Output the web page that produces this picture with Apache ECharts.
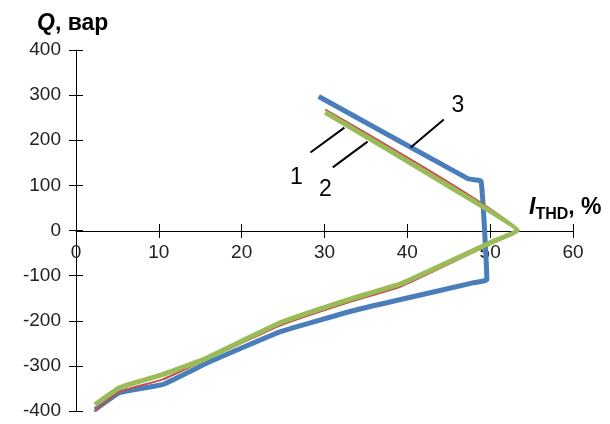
<!DOCTYPE html>
<html>
<head>
<meta charset="utf-8">
<script src="https://cdn.jsdelivr.net/npm/echarts@6/dist/echarts.min.js"></script>
<style>
html, body { margin: 0; padding: 0; background: #fff; }
#chart { width: 610px; height: 424px; }
</style>
</head>
<body>
<div id="chart"></div>
<script>
// данные (I_THD, %; Q, вар)
var curve1 = [[30.1, 268], [53.2, 0], [50, -30], [39.2, -124], [33.1, -158], [24.7, -210],
	[16, -283], [10.5, -330], [5.3, -357], [2.2, -401]];
var curve2 = [[30.1, 262], [46.4, 83], [53.3, 0], [50, -27], [39.2, -118], [33.1, -152],
	[24.7, -204], [15.5, -285], [10.5, -319], [5.3, -348], [2.3, -386]];
var curve3 = [[29.3, 297], [47.3, 115], [48.9, 109], [49.6, -109], [47.9, -116], [39.2, -153],
	[34, -175], [24.7, -224], [16, -292], [10.5, -341], [5.3, -359], [2.3, -397]];
var curveNames = ['1', '2', '3'];
// выноски
var leaderLines = [
	[[28.3, 173], [32.4, 228]],
	[[31.0, 140], [35.2, 197]],
	[[40.4, 184], [44.4, 246]]
];
var leaderLabels = [[26.6, 118], [30.1, 90], [46.1, 277]];

var FONT = '"Liberation Sans", Arial, sans-serif';

var myChart = echarts.init(document.getElementById('chart'));

var axisText = { color: '#222', fontSize: 19, fontFamily: FONT };
// ось X проходит через ноль по Y (половина высоты сетки)
var zeroOffset = -180;

option = {
	animation: false,
	backgroundColor: '#fff',
	grid: { left: 76, right: 37, top: 50, bottom: 13, outerBoundsMode: 'none' },
	xAxis: [ {
		type: 'value', min: 0, max: 60, interval: 10, position: 'bottom', offset: zeroOffset,
		axisLine: { onZero: false, lineStyle: { color: '#000', width: 1 } },
		axisTick: { show: true, length: 7, lineStyle: { color: '#000' } },
		axisLabel: Object.assign({ margin: 12 }, axisText),
		splitLine: { show: false }
	}, {
		type: 'value', min: 0, max: 60, interval: 10, position: 'bottom', offset: zeroOffset,
		axisLine: { show: false, onZero: false },
		axisTick: { show: true, inside: true, length: 7, lineStyle: { color: '#000' } },
		axisLabel: { show: false },
		splitLine: { show: false }
	} ],
	yAxis: [ {
		type: 'value', min: -400, max: 400, interval: 100,
		axisLine: { show: true, onZero: false, lineStyle: { color: '#000', width: 1 } },
		axisTick: { show: true, length: 7, lineStyle: { color: '#000' } },
		axisLabel: Object.assign({ margin: 15 }, axisText),
		splitLine: { show: false }
	}, {
		type: 'value', min: -400, max: 400, interval: 100, position: 'left',
		axisLine: { show: false, onZero: false },
		axisTick: { show: true, inside: true, length: 7, lineStyle: { color: '#000' } },
		axisLabel: { show: false },
		splitLine: { show: false }
	} ],
	series: [ {
		name: curveNames[2], type: 'line', data: curve3, showSymbol: false, smooth: 0.1, z: 2,
		lineStyle: { color: '#4A7EBB', width: 5, join: 'round' }
	}, {
		name: curveNames[0], type: 'line', data: curve1, showSymbol: false, smooth: 0.1, z: 3,
		lineStyle: { color: '#C0504D', width: 2 }
	}, {
		name: curveNames[1], type: 'line', data: curve2, showSymbol: false, smooth: 0.1, z: 4,
		lineStyle: { color: '#9BBB59', width: 5, join: 'round' },
		markLine: {
			silent: true, symbol: 'none', animation: false,
			lineStyle: { color: '#000', width: 2, type: 'solid' },
			label: { show: false },
			data: leaderLines.map(function(l) { return [{ coord: l[0] }, { coord: l[1] }]; })
		},
		markPoint: {
			silent: true, symbol: 'circle', symbolSize: 0,
			label: { show: true, position: 'inside', color: '#000', fontSize: 23, fontFamily: FONT,
				formatter: function(p) { return p.name; } },
			data: leaderLabels.map(function(c, i) { return { name: curveNames[i], coord: c }; })
		}
	} ],
	graphic: [ {
		type: 'text', left: 37, top: 12,
		style: {
			text: '{q|Q}{b|, вар}',
			rich: {
				q: { fontSize: 23, fontWeight: 'bold', fontStyle: 'italic', fontFamily: FONT, fill: '#000' },
				b: { fontSize: 23, fontWeight: 'bold', fontFamily: FONT, fill: '#000' }
			}
		}
	}, {
		type: 'text', left: 529, top: 196,
		style: {
			text: '{i|I}{s|THD}{b|, %}',
			rich: {
				i: { fontSize: 23, fontWeight: 'bold', fontStyle: 'italic', fontFamily: FONT, fill: '#000', verticalAlign: 'bottom' },
				s: { fontSize: 16, fontWeight: 'bold', fontFamily: FONT, fill: '#000', verticalAlign: 'bottom', padding: [0, 0, -4, 0] },
				b: { fontSize: 23, fontWeight: 'bold', fontFamily: FONT, fill: '#000', verticalAlign: 'bottom' }
			}
		}
	} ]
};

myChart.setOption(option);
</script>
</body>
</html>
